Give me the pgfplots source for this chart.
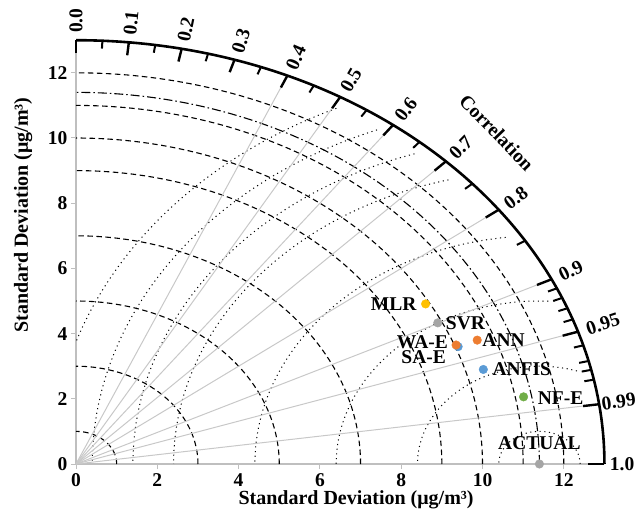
\documentclass[border=0pt]{standalone}
\usepackage{fontspec}
\setmainfont{Liberation Serif}
\usepackage{pgfplots}
\pgfplotsset{compat=1.18}
\definecolor{axgray}{HTML}{BFBFBF}
\definecolor{raygray}{HTML}{C8C8C8}
\definecolor{cMLR}{HTML}{FFC000}
\definecolor{cGray}{HTML}{A5A5A5}
\definecolor{cOrange}{HTML}{ED7D31}
\definecolor{cBlue}{HTML}{5B9BD5}
\definecolor{cGreen}{HTML}{70AD47}
\newcommand{\lbl}{\fontsize{19.5}{20}\selectfont\bfseries}
\newcommand{\ttl}{\fontsize{20}{22}\selectfont\bfseries}
\begin{document}
\begin{tikzpicture}
\useasboundingbox (-76pt,-58pt) rectangle (560pt,464pt);
\begin{axis}[
  anchor=south west, at={(0pt,0pt)},
  x=40.65pt, y=32.6pt,
  xmin=0, xmax=13, ymin=0, ymax=13,
  enlargelimits=false, clip=false,
  axis lines*=left,
  axis line style={axgray, line width=1.2pt},
  xtick={0,2,...,12}, ytick={0,2,...,12},
  tick style={axgray, line width=1pt},
  tick align=outside, major tick length=5pt,
  ticklabel style={font=\lbl},
  xticklabel style={yshift=-1pt},
  /pgf/number format/assume math mode=true,
  rmsd/.style={black, line width=1pt, dash pattern=on 1.1pt off 3.6pt, no markers, samples=120},
  stdarc/.style={black, line width=1.1pt, dash pattern=on 5.5pt off 3.5pt, no markers, samples=120},
  pt/.style={only marks, mark=*, mark size=4.3pt},
  lab/.style={nodes near coords style={font=\lbl, text=black, inner sep=0pt, #1}},
]
% RMSD arcs (centred on the reference point, std = 11.4)
\addplot[rmsd, domain=0:180]       ({11.4+1*cos(x)},{1*sin(x)});
\addplot[rmsd, domain=72.1:180]    ({11.4+3*cos(x)},{3*sin(x)});
\addplot[rmsd, domain=87.5:180]    ({11.4+5*cos(x)},{5*sin(x)});
\addplot[rmsd, domain=96.8:180]    ({11.4+7*cos(x)},{7*sin(x)});
\addplot[rmsd, domain=104.4:180]   ({11.4+9*cos(x)},{9*sin(x)});
\addplot[rmsd, domain=107.9:180]   ({11.4+10*cos(x)},{10*sin(x)});
\addplot[rmsd, domain=111.3:180]   ({11.4+11*cos(x)},{11*sin(x)});
\addplot[rmsd, domain=114.6:161.8] ({11.4+12*cos(x)},{12*sin(x)});
% standard deviation arcs
\pgfplotsinvokeforeach{1,3,5,7,9,10,11,12}{
  \addplot[stdarc, domain=0:90] ({#1*cos(x)},{#1*sin(x)});
}
\addplot[black, line width=1.1pt, dash pattern=on 9pt off 3pt on 1.5pt off 3pt, no markers, samples=120, domain=0:90] ({11.4*cos(x)},{11.4*sin(x)});
% correlation rays
\pgfplotsinvokeforeach{0.4,0.5,0.6,0.7,0.8,0.9,0.95,0.99}{
  \draw[raygray, line width=1pt] (axis cs:0,0) -- (axis cs:{12.6*#1},{12.6*sqrt(1-(#1)^2)});
}
% outer arc
\addplot[black, line width=2.6pt, no markers, samples=150, domain=0:90] ({13*cos(x)},{13*sin(x)});
% major ticks
\pgfplotsinvokeforeach{0.0,0.1,0.2,0.3,0.4,0.5,0.6,0.7,0.8,0.9,0.95,0.99,1.0}{
  \draw[black, line width=2.4pt] (axis cs:{12.6*#1},{12.6*sqrt(1-(#1)^2)}) -- (axis cs:{13*#1},{13*sqrt(1-(#1)^2)});
}
% correlation labels
\pgfplotsinvokeforeach{0.0,0.1,0.2,0.3,0.4,0.5,0.6,0.7,0.8,0.9,0.95}{
  \node[rotate={acos(#1)}, anchor=west, font=\lbl, inner sep=0pt] at (axis cs:{13.22*#1},{13.22*sqrt(1-(#1)^2)}) {#1};
}
\node[rotate={acos(0.99)}, anchor=west, font=\lbl, inner sep=0pt] at (axis cs:{13.06*0.99},{13.06*sqrt(1-0.99^2)}) {0.99};
\node[anchor=west, font=\lbl, inner sep=0pt] at (axis cs:13.13,0) {1.0};
% minor ticks
\pgfplotsinvokeforeach{0.05,0.15,0.25,0.35,0.45,0.55,0.65,0.75,0.85,0.91,0.92,0.93,0.94,0.96,0.97,0.975,0.98}{
  \draw[black, line width=2pt] (axis cs:{12.76*#1},{12.76*sqrt(1-(#1)^2)}) -- (axis cs:{13*#1},{13*sqrt(1-(#1)^2)});
}
\node[rotate=-46, font=\lbl] at (axis cs:10.35,10.17) {Correlation};
% data points
\addplot[pt, color=cMLR, nodes near coords={MLR}, lab={anchor=east, xshift=-9pt}] coordinates {(8.60,4.91)};
\addplot[pt, color=cGray, nodes near coords={SVR}, lab={anchor=west, xshift=8pt}] coordinates {(8.90,4.33)};
\addplot[pt, color=cBlue, nodes near coords={SA-E}, lab={anchor=east, xshift=-12pt, yshift=-10pt}] coordinates {(9.40,3.60)};
\addplot[pt, color=cOrange, nodes near coords={WA-E}, lab={anchor=east, xshift=-8pt, yshift=3pt}] coordinates {(9.35,3.65)};
\addplot[pt, color=cOrange, nodes near coords={ANN}, lab={anchor=west, xshift=5pt}] coordinates {(9.87,3.80)};
\addplot[pt, color=cBlue, nodes near coords={ANFIS}, lab={anchor=west, xshift=9pt}] coordinates {(10.02,2.90)};
\addplot[pt, color=cGreen, nodes near coords={NF-E}, lab={anchor=west, xshift=14pt, yshift=-1pt}] coordinates {(11.01,2.06)};
\addplot[pt, color=cGray, nodes near coords={ACTUAL}, lab={anchor=center, yshift=21pt}] coordinates {(11.40,0)};
% axis titles
\node[font=\ttl] at (axis cs:6.89,-1.10) {Standard Deviation (μg/m³)};
\node[font=\ttl, rotate=90] at (axis cs:-1.30,7.64) {Standard Deviation (μg/m³)};
\end{axis}
\end{tikzpicture}
\end{document}
